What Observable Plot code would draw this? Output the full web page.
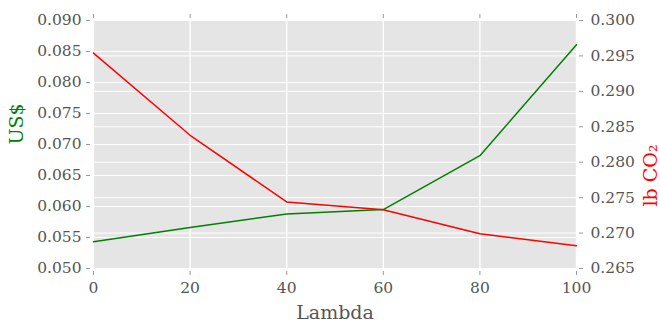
<!DOCTYPE html>
<html>
<head>
<meta charset="utf-8">
<script src="https://cdn.jsdelivr.net/npm/d3@7"></script>
<script src="https://cdn.jsdelivr.net/npm/@observablehq/plot@0.6"></script>
<style>
  html, body { margin: 0; padding: 0; background: white; }
</style>
</head>
<body>
<div id="chart"></div>
<script>
const lambda = [0, 20, 40, 60, 80, 100];
const costUSD = [0.0543, 0.0566, 0.0588, 0.0595, 0.0682, 0.0861];
const co2LB = [0.2954, 0.2838, 0.2744, 0.2733, 0.2699, 0.2682];
const xTicks = [0, 20, 40, 60, 80, 100];
const leftTicks = [0.050, 0.055, 0.060, 0.065, 0.070, 0.075, 0.080, 0.085, 0.090];
const rightTicks = [0.265, 0.270, 0.275, 0.280, 0.285, 0.290, 0.295, 0.300];
const leftLabel = "US$";
const rightLabel = "lb CO\u2082";
const xLabel = "Lambda";

const leftDomain = [0.050, 0.090];
const rightDomain = [0.265, 0.300];
const conv = d3.scaleLinear(rightDomain, leftDomain);
const fmt = d3.format(".3f");

const usdRows = lambda.map((l, i) => ({lambda: l, value: costUSD[i]}));
const co2Rows = lambda.map((l, i) => ({lambda: l, value: conv(co2LB[i])}));

const tickColor = "#999";
const textColor = "#555";

const chart = Plot.plot({
  width: 660,
  height: 322,
  marginLeft: 93,
  marginRight: 84,
  marginTop: 20,
  marginBottom: 54,
  style: {fontFamily: "DejaVu Serif", fontSize: "15.5px", color: textColor, background: "white"},
  x: {domain: [0, 100]},
  y: {domain: leftDomain},
  marks: [
    Plot.frame({fill: "#e5e5e5", stroke: null}),
    Plot.ruleY(leftTicks, {y: d => d, stroke: "white", strokeWidth: 1}),
    Plot.ruleY(rightTicks, {y: d => conv(d), stroke: "white", strokeWidth: 1}),
    Plot.ruleX(xTicks, {x: d => d, stroke: "white", strokeWidth: 1.3}),
    Plot.line(usdRows, {x: "lambda", y: "value", stroke: "#008000", strokeWidth: 1.5}),
    Plot.line(co2Rows, {x: "lambda", y: "value", stroke: "#ff0000", strokeWidth: 1.5}),
    Plot.axisY(leftTicks, {anchor: "left", tickSize: 4, dx: -3, tickPadding: 5, tickFormat: fmt, label: null, stroke: tickColor, fill: textColor}),
    Plot.axisY(rightTicks.map(d => conv(d)), {anchor: "right", tickSize: 4, dx: 2, tickPadding: 8, tickFormat: d => fmt(conv.invert(d)), label: null, stroke: tickColor, fill: textColor}),
    Plot.axisX(xTicks, {anchor: "bottom", tickSize: 4, dy: 3, tickPadding: 6, tickFormat: d3.format("d"), label: null, stroke: tickColor, fill: textColor}),
    Plot.axisX(xTicks, {anchor: "top", tickSize: 4, dy: -3, tickFormat: () => "", label: null, stroke: tickColor}),
    Plot.text([xLabel], {text: d => d, frameAnchor: "bottom", dy: 44, fontSize: 19, fill: textColor, lineAnchor: "middle"}),
    Plot.text([leftLabel], {text: d => d, frameAnchor: "left", rotate: -90, dx: -77, fontSize: 19, fill: "#008000", lineAnchor: "middle"}),
    Plot.text([rightLabel], {text: d => d, frameAnchor: "right", rotate: -90, dx: 74, fontSize: 19, fill: "#ff0000", lineAnchor: "middle"})
  ]
});
document.getElementById("chart").appendChild(chart);
</script>
</body>
</html>
